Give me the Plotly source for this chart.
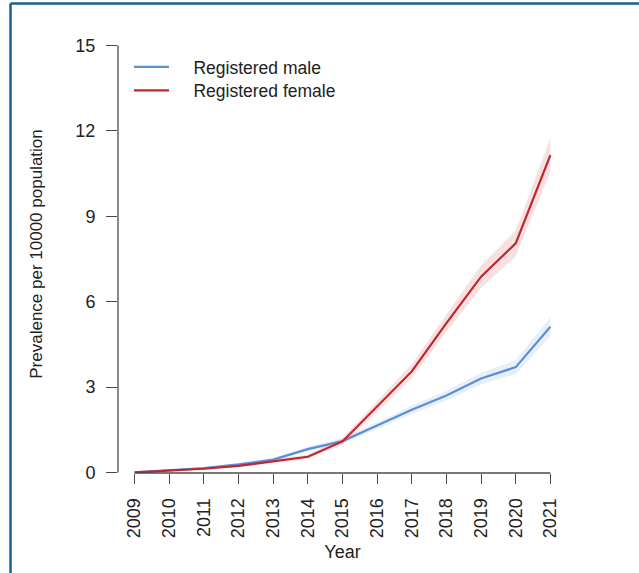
import plotly.graph_objects as go

years = [2009, 2010, 2011, 2012, 2013, 2014, 2015, 2016, 2017, 2018, 2019, 2020, 2021]

male = [0.0, 0.08, 0.15, 0.28, 0.45, 0.82, 1.10, 1.65, 2.20, 2.70, 3.30, 3.70, 5.12]
male_lo = [0.0, 0.06, 0.12, 0.24, 0.39, 0.74, 1.00, 1.53, 2.05, 2.53, 3.10, 3.45, 4.78]
male_hi = [0.0, 0.10, 0.18, 0.32, 0.51, 0.90, 1.20, 1.77, 2.35, 2.87, 3.50, 3.95, 5.46]

female = [0.0, 0.07, 0.13, 0.23, 0.40, 0.55, 1.09, 2.32, 3.55, 5.25, 6.88, 8.05, 11.15]
female_lo = [0.0, 0.05, 0.10, 0.19, 0.34, 0.48, 0.97, 2.12, 3.30, 4.95, 6.48, 7.60, 10.55]
female_hi = [0.0, 0.09, 0.16, 0.27, 0.46, 0.62, 1.21, 2.52, 3.80, 5.55, 7.28, 8.50, 11.75]

y_ticks = [0, 3, 6, 9, 12, 15]

names = ["Registered male", "Registered female"]
line_colors = ["#5b8ed8", "#c0262c"]
band_colors = ["rgba(91,142,216,0.14)", "rgba(192,38,44,0.14)"]
legend_ids = ["legend", "legend2"]

FONT = "Liberation Sans, Arial, sans-serif"
AXIS_COLOR = "#4a4a4a"
TEXT_COLOR = "#222222"
NBSP = "\u00a0"

fig = go.Figure()

series = [(male, male_lo, male_hi), (female, female_lo, female_hi)]
for (vals, lo, hi), bc in zip(series, band_colors):
    fig.add_trace(go.Scatter(
        x=years + years[::-1], y=hi + lo[::-1],
        fill="toself", fillcolor=bc, line=dict(width=0),
        hoverinfo="skip", showlegend=False, mode="lines",
    ))
for (vals, lo, hi), name, lc, lg in zip(series, names, line_colors, legend_ids):
    fig.add_trace(go.Scatter(
        x=years, y=vals, mode="lines", name=NBSP * 4 + name,
        line=dict(color=lc, width=2.2), legend=lg,
    ))

x_pad = 0.04 * (years[-1] - years[0])

legend_common = dict(
    xanchor="left", yanchor="middle",
    bgcolor="rgba(0,0,0,0)", borderwidth=0,
    font=dict(size=17.5, color=TEXT_COLOR),
    itemwidth=35,
)

fig.update_layout(
    width=639, height=573,
    margin=dict(l=118, r=72, t=35, b=100, autoexpand=False),
    paper_bgcolor="white", plot_bgcolor="white",
    font=dict(family=FONT, size=18, color=TEXT_COLOR),
    showlegend=True,
    legend=dict(x=0.0245, y=(473 - 67) / 438, **legend_common),
    legend2=dict(x=0.0245, y=(473 - 90.5) / 438, **legend_common),
    xaxis=dict(
        range=[years[0] - x_pad, years[-1] + x_pad],
        tickvals=years, ticktext=[str(y) for y in years],
        tickangle=-90, ticks="outside", ticklen=10, tickwidth=1.3,
        tickcolor=AXIS_COLOR, showgrid=False, zeroline=False, showline=False,
        ticklabelstandoff=7,
        tickfont=dict(size=18, color=TEXT_COLOR),
        title=dict(text="Year", font=dict(size=18, color=TEXT_COLOR), standoff=8),
        automargin=False,
    ),
    yaxis=dict(
        range=[-0.02, 15.37],
        tickvals=y_ticks, ticktext=[str(v) for v in y_ticks],
        ticks="outside", ticklen=11, tickwidth=1.3,
        tickcolor=AXIS_COLOR, showgrid=False, zeroline=False, showline=False,
        ticklabelstandoff=7,
        tickfont=dict(size=18, color=TEXT_COLOR),
        title=dict(text="Prevalence per 10000 population", font=dict(size=17, color=TEXT_COLOR), standoff=28),
        automargin=False,
    ),
    shapes=[
        # axis lines (R-style: only spanning tick range)
        dict(type="line", xref="x", yref="paper", x0=years[0], x1=years[-1], y0=0, y1=0,
             line=dict(color=AXIS_COLOR, width=1.3)),
        dict(type="line", xref="paper", yref="y", x0=0, x1=0, y0=y_ticks[0], y1=y_ticks[-1],
             line=dict(color=AXIS_COLOR, width=1.3)),
        # figure frame
        dict(type="line", xref="paper", yref="paper", x0=-0.2394, x1=1.17, y0=1.0719, y1=1.0719,
             line=dict(color="#15628a", width=2.5)),
        dict(type="line", xref="paper", yref="paper", x0=-0.2394, x1=-0.2394, y0=1.0719, y1=-0.25,
             line=dict(color="#15628a", width=2.5)),
    ],
)

fig.write_html("out.html", config={"displayModeBar": False},
               post_script="document.body.style.margin='0px';")
